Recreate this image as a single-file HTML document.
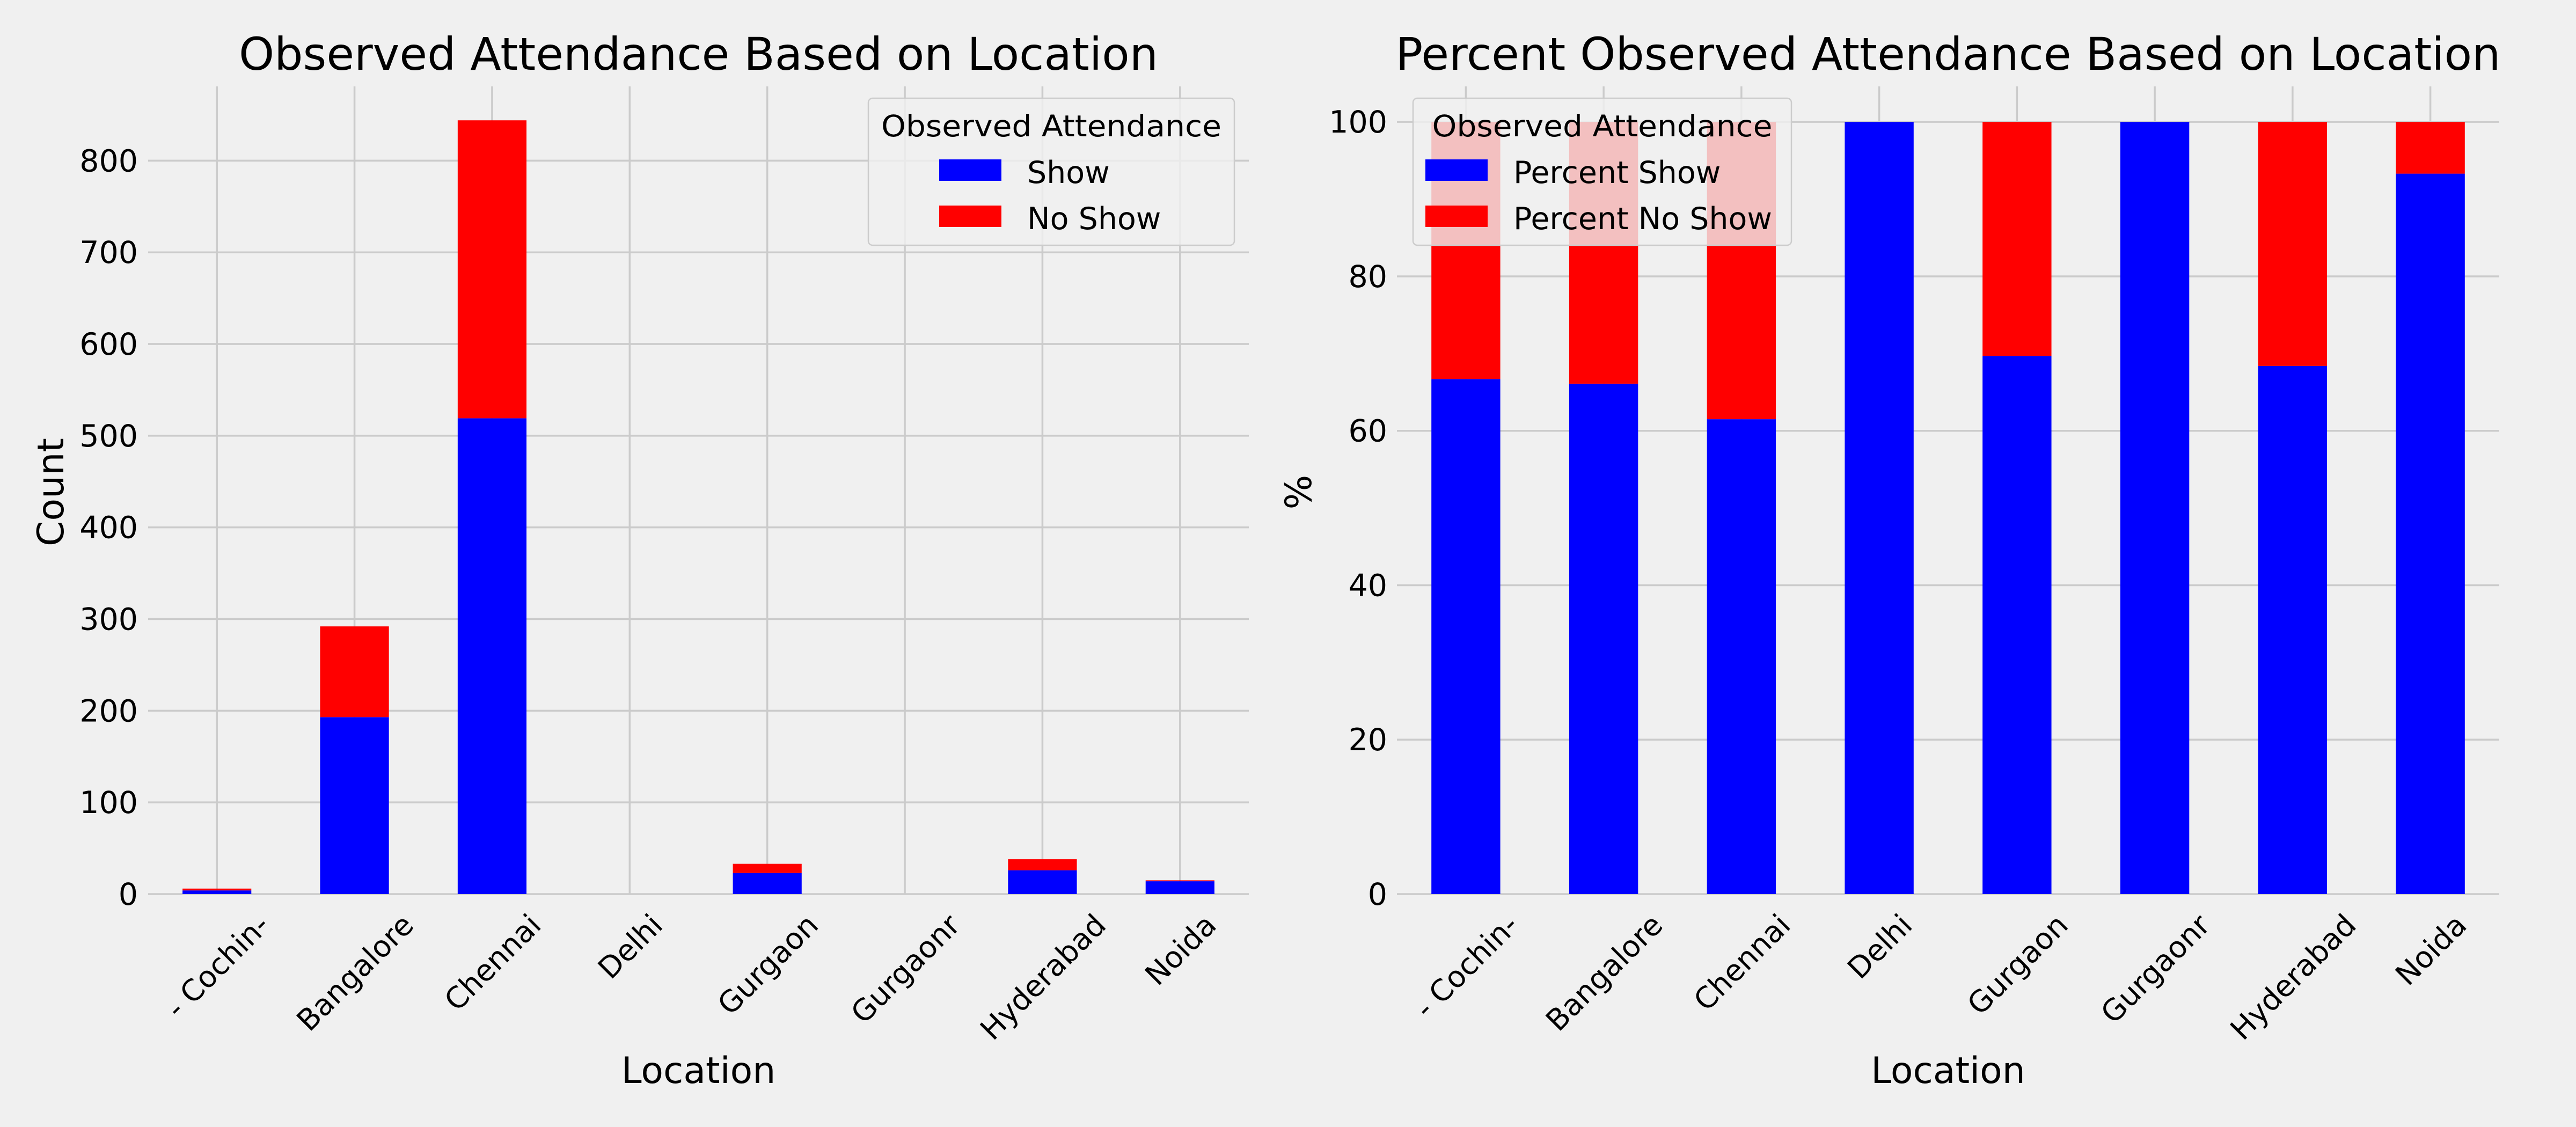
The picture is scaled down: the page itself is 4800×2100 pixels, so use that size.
<!DOCTYPE html>
<html><head><meta charset="utf-8"><style>
html,body{margin:0;padding:0;background:#f0f0f0;}
svg{display:block;font-family:"DejaVu Sans","Liberation Sans",sans-serif;}
</style></head>
<body>
<svg id="chart" width="4800" height="2100" viewBox="0 0 4800 2100" xmlns="http://www.w3.org/2000/svg">
<rect x="0" y="0" width="4800" height="2100" fill="#f0f0f0"/>
<g id="left"></g>
<g id="right"></g>
</svg>
<script>
const categories = ["- Cochin-", "Bangalore", "Chennai", "Delhi", "Gurgaon", "Gurgaonr", "Hyderabad", "Noida"];
const showCounts = [4, 193, 519, 0, 23, 0, 26, 14];
const noShowCounts = [2, 99, 325, 0, 10, 0, 12, 1];
const percentShow = [66.7, 66.1, 61.5, 100, 69.7, 100, 68.4, 93.3];
const percentNoShow = [33.3, 33.9, 38.5, 0, 30.3, 0, 31.6, 6.7];
const countTicks = [0, 100, 200, 300, 400, 500, 600, 700, 800];
const percentTicks = [0, 20, 40, 60, 80, 100];

const NS = "http://www.w3.org/2000/svg";
function mk(parent, tag, attrs, text) {
  const e = document.createElementNS(NS, tag);
  for (const k in attrs) e.setAttribute(k, attrs[k]);
  if (text !== undefined) e.textContent = text;
  parent.appendChild(e);
  return e;
}

function drawPanel(g, cfg) {
  const L = cfg.left, R = cfg.right, T = 161, B = 1666;
  const n = categories.length;
  const xs = i => L + (i + 0.5) * (R - L) / n;
  const ys = v => B - (v - 0) / (cfg.ymax - 0) * (B - T);
  cfg.ticks.forEach(t => {
    const ln = mk(g, "line", {x1: L, x2: R, y1: ys(t), y2: ys(t), stroke: "#cbcbcb", "stroke-width": 3.5});
    
    
    const lb = mk(g, "text", {x: cfg.tickRight, y: ys(t) + 20, "text-anchor": "end", "font-size": 57, fill: "#000"}, String(t));
    
    
  });
  categories.forEach((c, i) => {
    const ln = mk(g, "line", {x1: xs(i), x2: xs(i), y1: T, y2: B, stroke: "#cbcbcb", "stroke-width": 3.5});
    
    
  });
  const bw = (R - L) / n * 0.5;
  categories.forEach((c, i) => {
    const s = cfg.a[i], ns = cfg.b[i];
    const r1 = mk(g, "rect", {x: xs(i) - bw / 2, y: ys(s), width: bw, height: B - ys(s), fill: "#0000ff"});
    
    
    const r2 = mk(g, "rect", {x: xs(i) - bw / 2, y: ys(s + ns), width: bw, height: ys(s) - ys(s + ns), fill: "#ff0000"});
    
    
  });
  categories.forEach((c, i) => {
    const t = mk(g, "text", {x: 0, y: 0, "text-anchor": "middle", "font-size": 55, fill: "#000"}, c);
    
    
    const w = t.getComputedTextLength();
    const h = 55 * 0.75;
    const cy = 1698 + (w * 0.7071 + h * 0.7071) / 2;
    t.setAttribute("transform", "translate(" + xs(i) + "," + cy + ") rotate(-45) translate(0," + (h * 0.5) + ")");
  });
  const tt = mk(g, "text", {x: (L + R) / 2, y: 130, "text-anchor": "middle", "font-size": 84, fill: "#000", textLength: cfg.titleLen, lengthAdjust: "spacingAndGlyphs"}, cfg.title);
  
  
  const xl = mk(g, "text", {x: (L + R) / 2, y: 2018, "text-anchor": "middle", "font-size": 68, fill: "#000"}, "Location");
  
  
  const yl = mk(g, "text", {x: 0, y: 0, "text-anchor": "middle", "font-size": 68, fill: "#000", transform: "translate(" + cfg.ylx + ",917) rotate(-90)"}, cfg.ylabel);
  
  
  const lg = mk(g, "g", {});
  
  
  const lx = cfg.legX, lw = cfg.legW;
  const box = mk(lg, "rect", {x: lx, y: 183, width: lw, height: 274, rx: 8, fill: "#f0f0f0", "fill-opacity": 0.8, stroke: "#cccccc", "stroke-width": 2.5});
  
  
  const lt = mk(lg, "text", {x: lx + lw / 2, y: 254, "text-anchor": "middle", "font-size": 55, fill: "#000", textLength: 634, lengthAdjust: "spacingAndGlyphs"}, "Observed Attendance");
  
  
  [["#0000ff", cfg.lab1, 297], ["#ff0000", cfg.lab2, 383]].forEach((e, k) => {
    const p = mk(lg, "rect", {x: cfg.patchX, y: e[2], width: 116, height: 40, fill: e[0]});
    
    
    const tx = mk(lg, "text", {x: cfg.patchX + 164, y: e[2] + 44, "font-size": 57, fill: "#000"}, e[1]);
    
    
  });
}

drawPanel(document.getElementById("left"), {
  left: 276, right: 2327, ymax: 881, ticks: countTicks, tickRight: 257,
  a: showCounts, b: noShowCounts, title: "Observed Attendance Based on Location", titleLen: 1713,
  ylabel: "Count", ylx: 118, legX: 1618, legW: 682, patchX: 1750, lab1: "Show", lab2: "No Show"
});
drawPanel(document.getElementById("right"), {
  left: 2603, right: 4657, ymax: 104.6, ticks: percentTicks, tickRight: 2585,
  a: percentShow, b: percentNoShow, title: "Percent Observed Attendance Based on Location", titleLen: 2059,
  ylabel: "%", ylx: 2443, legX: 2633, legW: 705, patchX: 2656, lab1: "Percent Show", lab2: "Percent No Show"
});
</script>
</body></html>
